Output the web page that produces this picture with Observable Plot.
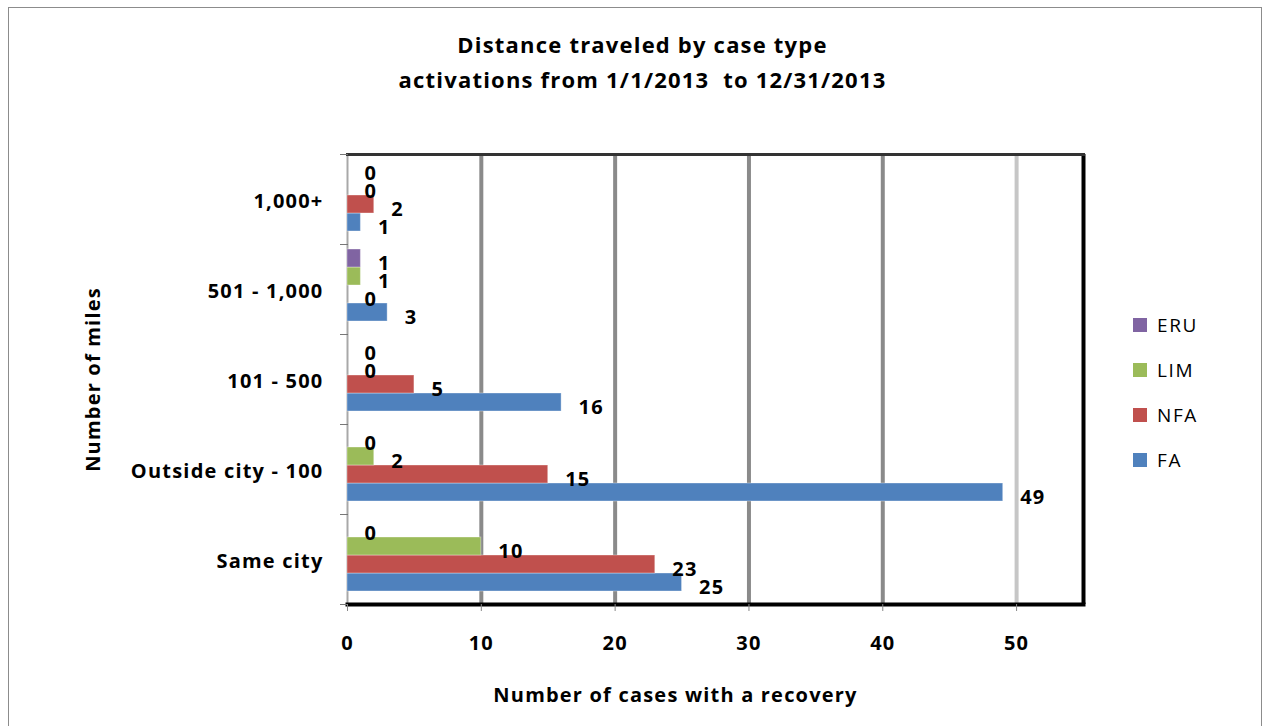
<!DOCTYPE html>
<html>
<head>
<meta charset="utf-8">
<script src="https://cdn.jsdelivr.net/npm/d3@7"></script>
<script src="https://cdn.jsdelivr.net/npm/@observablehq/plot@0.6"></script>
<style>
  html, body { margin: 0; padding: 0; background: #fff; overflow: hidden; }
  #wrap { position: relative; width: 1264px; height: 726px; font-family: "Open Sans", Lato, sans-serif; }
  #border { position: absolute; left: 8px; top: 7px; width: 1254px; height: 730px; border: 1px solid #8c8c8c; box-sizing: border-box; pointer-events: none; }
  #chart { position: absolute; left: 0; top: 0; }
  #chart svg text { letter-spacing: 1.2px; }
  #legend { position: absolute; left: 1133px; top: 302px; }
  .item { display: flex; align-items: center; height: 45px; }
  .sw { width: 14px; height: 14px; margin-right: 10px; }
  .lab { font-size: 19px; letter-spacing: 1.6px; color: #000; }
</style>
</head>
<body>
<div id="wrap">
  <div id="chart"></div>
  <div id="border"></div>
  <div id="legend"></div>
</div>
<script>
// ---- data ----
const categories = ["Same city", "Outside city - 100", "101 - 500", "501 - 1,000", "1,000+"];
const seriesNames = ["FA", "NFA", "LIM", "ERU"];
const FA  = [25, 49, 16, 3, 1];
const NFA = [23, 15, 5, 0, 2];
const LIM = [10, 2, 0, 1, 0];
const ERU = [0, 0, 0, 1, 0];
const seriesColors = ["#4F81BD", "#C0504D", "#9BBB59", "#8064A2"];
const xTicks = [0, 10, 20, 30, 40, 50];
const titleLines = ["Distance traveled by case type", "activations from 1/1/2013  to 12/31/2013"];
const xTitle = "Number of cases with a recovery";
const yTitle = "Number of miles";

const valuesBySeries = {FA, NFA, LIM, ERU};
const rows = [];
categories.forEach((c, i) => {
  seriesNames.forEach(s => rows.push({category: c, series: s, value: valuesBySeries[s][i]}));
});

const catTopDown = categories.slice().reverse();
const seriesTopDown = seriesNames.slice().reverse();
const font = "'Open Sans', Lato, sans-serif";

const chart = Plot.plot({
  width: 1264,
  height: 726,
  marginLeft: 347,
  marginRight: 181,
  marginTop: 152,
  marginBottom: 120,
  style: {fontFamily: font, background: "transparent", overflow: "visible"},
  x: {domain: [0, 55]},
  y: {domain: seriesTopDown, paddingInner: 0, paddingOuter: 0.5, align: 0.3, axis: null},
  fy: {domain: catTopDown, paddingInner: 0, paddingOuter: 0},
  color: {domain: seriesNames, range: seriesColors},
  marks: [
    Plot.ruleX(xTicks.filter(t => t > 0 && t < 50), {stroke: "#8a8a8a", strokeWidth: 4}),
    Plot.ruleX(xTicks.filter(t => t === 50), {stroke: "#c6c6c6", strokeWidth: 4}),
    Plot.ruleX([0], {stroke: "#a8a8a8", strokeWidth: 2}),
    Plot.barX(rows, {x: "value", y: "series", fy: "category", fill: "series", stroke: "#ffffff", strokeOpacity: 0.35, strokeWidth: 1}),
    Plot.text(rows, {x: "value", y: "series", fy: "category", text: d => String(d.value), textAnchor: "start", dx: 17, dy: 5, fontSize: 20, fontWeight: "bold", fill: "#000"}),
    Plot.ruleX([55], {stroke: "#000", strokeWidth: 4}),
    Plot.frame({anchor: "top", facetAnchor: "top", stroke: "#333", strokeWidth: 3}),
    Plot.frame({anchor: "bottom", facetAnchor: "bottom", stroke: "#000", strokeWidth: 4}),
    Plot.frame({anchor: "top", insetLeft: -7, insetRight: 736, stroke: "#777", strokeWidth: 1}),
    Plot.frame({anchor: "bottom", facetAnchor: "bottom", insetLeft: -7, insetRight: 736, stroke: "#777", strokeWidth: 1}),
    Plot.axisX({anchor: "bottom", ticks: xTicks, tickSize: 7, tickPadding: 24, fontSize: 20, fontWeight: "bold", stroke: "#888", fill: "#000", label: null}),
    Plot.axisFy({anchor: "left", tickSize: 0, tickPadding: 24, fontSize: 20, fontWeight: "bold", dy: 2, label: yTitle, labelAnchor: "center", labelOffset: 262, fill: "#000"}),
    Plot.text([xTitle], {frameAnchor: "bottom", facetAnchor: "bottom", dy: 97, dx: -40, fontSize: 20, fontWeight: "bold", fill: "#000"}),
    Plot.text([titleLines[0]], {frameAnchor: "top", facetAnchor: "top", dy: -117, dx: -73, fontSize: 22, fontWeight: "bold", fill: "#000"}),
    Plot.text([titleLines[1]], {frameAnchor: "top", facetAnchor: "top", dy: -82, dx: -73, fontSize: 22, fontWeight: "bold", fill: "#000"})
  ]
});
document.getElementById("chart").appendChild(chart);

const legend = document.getElementById("legend");
seriesTopDown.forEach(s => {
  const item = document.createElement("div");
  item.className = "item";
  const sw = document.createElement("div");
  sw.className = "sw";
  sw.style.background = seriesColors[seriesNames.indexOf(s)];
  const lab = document.createElement("span");
  lab.className = "lab";
  lab.textContent = s;
  item.appendChild(sw);
  item.appendChild(lab);
  legend.appendChild(item);
});
</script>
</body>
</html>
